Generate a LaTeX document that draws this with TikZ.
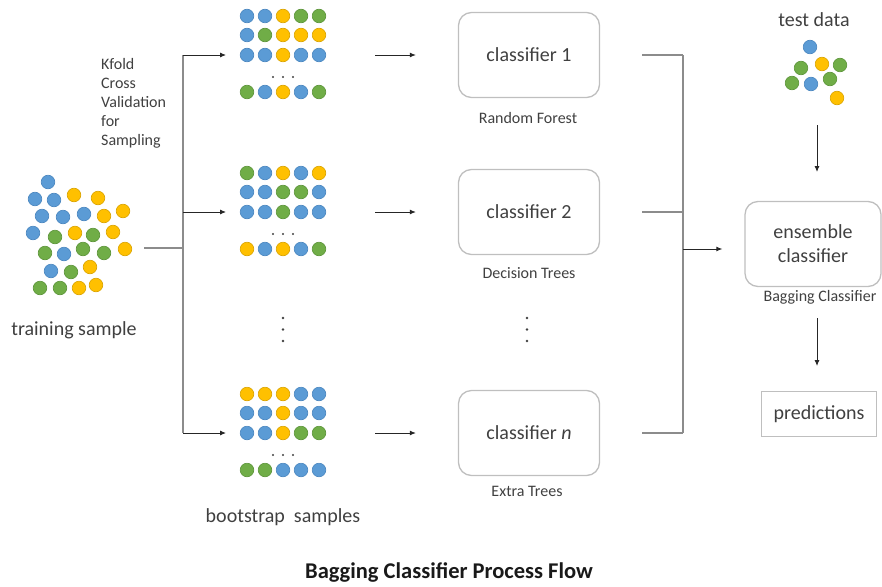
\documentclass[tikz,border=0pt]{standalone}
\usepackage{fontspec}
\setmainfont{Carlito}
\usetikzlibrary{arrows.meta}
\definecolor{dotblue}{HTML}{5B9BD5}
\definecolor{dotblueline}{HTML}{4A86BF}
\definecolor{dotyel}{HTML}{FFC000}
\definecolor{dotyelline}{HTML}{D9A300}
\definecolor{dotgrn}{HTML}{70AD47}
\definecolor{dotgrnline}{HTML}{5C943A}
\definecolor{txt}{HTML}{404040}
\definecolor{boxgray}{HTML}{BFBFBF}
\definecolor{linegray}{HTML}{8C8C8C}

\begin{document}
\begin{tikzpicture}[x=1pt,y=-1pt,text=txt]

			\tikzstyle{dotB} = [fill=dotblue,draw=dotblueline,line width=0.6pt]
			\tikzstyle{dotY} = [fill=dotyel,draw=dotyelline,line width=0.6pt]
			\tikzstyle{dotG} = [fill=dotgrn,draw=dotgrnline,line width=0.6pt]
			\tikzstyle{clf} = [draw=boxgray,line width=1.3pt,rounded corners=13pt,minimum width=141pt,minimum height=85pt,font=\fontsize{20}{24}\selectfont]
			\tikzstyle{lbl} = [font=\fontsize{16}{19}\selectfont]
			\tikzstyle{big} = [font=\fontsize{20}{24}\selectfont]
			\tikzstyle{bus} = [draw=linegray,line width=1.3pt]
			\tikzstyle{arr} = [draw=black!85,line width=0.9pt,-{Latex[length=6pt,width=5pt]}]

			\useasboundingbox (0,0) rectangle (882,586);

			% training sample
			\foreach \x/\y/\c in {48/182/B,35/199/B,54/200/B,74/195/Y,98/198/Y,
				42/216/B,63/217/B,84/214/B,104/216/Y,123/211/Y,
				33/233/B,55/237/G,75/233/Y,93/235/G,113/232/Y,
				45/253/G,64/254/B,83/249/G,104/253/G,125/249/Y,
				51/271/B,71/272/G,90/267/Y,
				40/288/G,60/288/G,79/288/Y,96/285/Y}
				\draw[dot\c] (\x,\y) circle (6.8pt);
			\node[big] (train) at (74,330) {training sample};

			\node[lbl,anchor=west,align=left,inner sep=0pt] (kfold) at (101,103) {Kfold\\Cross\\Validation\\for\\Sampling};

			% bootstrap samples
			\foreach \k/\yy/\rows in {1/55/{{B,B,Y,G,G},{B,G,Y,Y,Y},{B,B,Y,B,B},{G,B,Y,B,G}},
				2/212/{{G,B,Y,B,Y},{B,B,G,G,B},{B,B,G,B,B},{Y,B,Y,B,G}},
				3/433/{{Y,Y,Y,B,B},{B,B,Y,B,B},{B,B,Y,G,G},{G,G,B,B,B}}} {
				\foreach \row [count=\r] in \rows {
					\pgfmathsetmacro{\ry}{\yy+(\r==1)*(-39)+(\r==2)*(-20)+(\r==4)*37}
					\foreach \c [count=\i] in \row
						\draw[dot\c] ({247+18*(\i-1)},\ry) circle (6.8pt);
				}
				\foreach \i in {0,1,2}
					\fill[black!75] ({273+10*\i},\yy+22) circle (1.2pt);
				\coordinate (bl\k) at (183,\yy);
				\coordinate (gin\k) at (226,\yy);
				\coordinate (gout\k) at (375,\yy);
				\coordinate (br\k) at (683,\yy);
			}
			\node[big] (boot) at (283,517) {bootstrap\ \ samples};

			\foreach \i in {0,1,2} {
				\fill[black!75] (283,318+11.5*\i) circle (1.3pt);
				\fill[black!75] (527,318+11.5*\i) circle (1.3pt);
			}

			% classifiers
			\node[clf] (c1) at (529,55) {classifier 1};
			\node[clf] (c2) at (529,212) {classifier 2};
			\node[clf] (c3) at (529,433) {classifier \textit{n}};
			\node[lbl] (rf) at (528,118) {Random Forest};
			\node[lbl] (dt) at (529,273) {Decision Trees};
			\node[lbl] (et) at (527,491) {Extra Trees};

			% left bus
			\coordinate (tout) at (144,248);
			\coordinate (blm) at (183,248);
			\draw[bus] (tout) -- (blm);
			\draw[bus] (bl1) -- (bl3);
			\foreach \k in {1,2,3} {
				\draw[arr] (bl\k) -- (gin\k);
				\draw[arr] (gout\k) -- ([xshift=-42pt]c\k.west);
				\draw[bus] ([xshift=42pt]c\k.east) -- (br\k);
			}
			\draw[bus] (br1) -- (br3);

			% ensemble
			\node[clf,minimum width=136pt,align=center] (ens) at (813,244) {ensemble\\classifier};
			\node[lbl] (bag) at (820,297) {Bagging Classifier};
			\coordinate (brm) at (683,249);
			\draw[arr,shorten >=22pt] (brm) -- (brm -| ens.west);

			% test data
			\node[big] (test) at (814,20) {test data};
			\foreach \x/\y/\c in {810/47/B,801/68/G,822/64/Y,840/65/G,792/83/G,811/84/B,830/79/G,837/98/Y}
				\draw[dot\c] (\x,\y) circle (6.8pt);
			\coordinate (testout) at (817,125);
			\coordinate (ensin) at (817,172);
			\draw[arr] (testout) -- (ensin);

			\node[draw=boxgray,line width=1.3pt,minimum width=115pt,minimum height=45pt,big] (pred) at (819,414) {predictions};
			\coordinate (enso) at (817,318);
			\coordinate (predi) at (817,366);
			\draw[arr] (enso) -- (predi);

			\node[font=\bfseries\fontsize{22.5}{27}\selectfont,text=black!90] (title) at (449,572) {Bagging Classifier Process Flow};
		\end{tikzpicture}
\end{document}
